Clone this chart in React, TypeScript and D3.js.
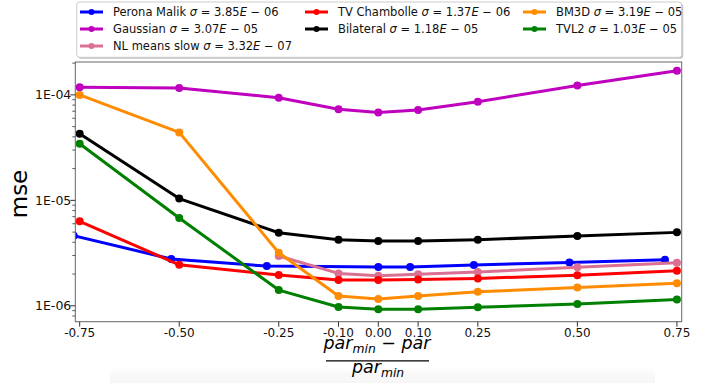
import React from "react";
import * as d3 from "d3";

const xTicks = [-0.75, -0.5, -0.25, -0.1, 0, 0.1, 0.25, 0.5, 0.75];
const xTickLabels = ["-0.75", "-0.50", "-0.25", "-0.10", "0.00", "0.10", "0.25", "0.50", "0.75"];
const yTicks = [1e-4, 1e-5, 1e-6];
const yTickLabels = ["1E-04", "1E-05", "1E-06"];

const xStd = [-0.75, -0.5, -0.25, -0.1, 0, 0.1, 0.25, 0.5, 0.75];
const xNL = [-0.25, -0.1, 0, 0.1, 0.25, 0.5, 0.75];
const xPM = [-0.765, -0.52, -0.28, 0, 0.08, 0.24, 0.48, 0.72];

const peronaMalik = [4.62e-6, 2.78e-6, 2.38e-6, 2.33e-6, 2.34e-6, 2.44e-6, 2.58e-6, 2.74e-6];
const gaussian = [1.18e-4, 1.16e-4, 9.4e-5, 7.3e-5, 6.8e-5, 7.2e-5, 8.6e-5, 1.23e-4, 1.69e-4];
const nlMeans = [2.97e-6, 2.03e-6, 1.93e-6, 1.99e-6, 2.09e-6, 2.32e-6, 2.56e-6];
const tvChambolle = [6.32e-6, 2.45e-6, 1.96e-6, 1.76e-6, 1.76e-6, 1.78e-6, 1.82e-6, 1.95e-6, 2.15e-6];
const bilateral = [4.28e-5, 1.04e-5, 4.93e-6, 4.23e-6, 4.11e-6, 4.11e-6, 4.23e-6, 4.59e-6, 4.97e-6];
const bm3d = [1.0e-4, 4.41e-5, 3.19e-6, 1.24e-6, 1.16e-6, 1.24e-6, 1.36e-6, 1.49e-6, 1.64e-6];
const tvl2 = [3.44e-5, 6.8e-6, 1.41e-6, 9.75e-7, 9.3e-7, 9.3e-7, 9.7e-7, 1.04e-6, 1.15e-6];

const seriesNames = ["Perona Malik", "Gaussian", "NL means slow", "TV Chambolle", "Bilateral", "BM3D", "TVL2"];
const sigmaMant = ["3.85", "3.07", "3.32", "1.37", "1.18", "3.19", "1.03"];
const sigmaExp = ["06", "05", "07", "06", "05", "05", "05"];
const colors = ["#0000ff", "#bf00bf", "#db7093", "#ff0000", "#000000", "#ff8c00", "#008000"];

const series = [
  { x: xPM, y: peronaMalik },
  { x: xStd, y: gaussian },
  { x: xNL, y: nlMeans },
  { x: xStd, y: tvChambolle },
  { x: xStd, y: bilateral },
  { x: xStd, y: bm3d },
  { x: xStd, y: tvl2 },
];

const W = 713, H = 383;
const L = 75.3, R = 681.7, T = 62, B = 321.7;
const FONT = "DejaVu Sans, sans-serif";

export default function App() {
  const x = d3.scaleLinear().domain([-0.761, 0.762]).range([L, R]);
  const y = d3.scaleLog().domain([7.07e-7, 2.05e-4]).range([B, T]);
  const line = d3.line<[number, number]>().x(d => x(d[0])).y(d => y(d[1]));

  const minor: number[] = [];
  for (let e = -7; e <= -3; e++) {
    for (let k = 2; k <= 9; k++) {
      const v = k * Math.pow(10, e);
      if (v > 7.07e-7 && v < 2.05e-4) minor.push(v);
    }
  }

  const colX = [80, 305, 523];
  const rowY = [12, 29, 46];
  const legendPos = [
    [0, 0], [0, 1], [0, 2], [1, 0], [1, 1], [2, 0], [2, 1],
  ];

  return (
    <svg width={W} height={H} style={{ position: "absolute", left: 0, top: 0, background: "#fff" }} fontFamily={FONT}>
      <defs>
        <clipPath id="plotclip">
          <rect x={L} y={T} width={R - L} height={B - T} />
        </clipPath>
        <linearGradient id="band" x1="0" y1="0" x2="0" y2="1">
          <stop offset="0" stopColor="#fafafa" stopOpacity={0} />
          <stop offset="0.5" stopColor="#f8f8f8" stopOpacity={1} />
          <stop offset="1" stopColor="#f6f6f6" stopOpacity={1} />
        </linearGradient>
      </defs>
      <rect x={0} y={0} width={W} height={H} fill="#fff" />
      <rect x={110} y={367} width={545} height={16} fill="url(#band)" />
      <g clipPath="url(#plotclip)">
        {series.map((s, i) => {
          const pts = s.x.map((xv, j) => [xv, s.y[j]] as [number, number]);
          return (
            <g key={i}>
              <path d={line(pts) || ""} fill="none" stroke={colors[i]} strokeWidth={3} strokeLinejoin="round" />
              {pts.map((p, j) => (
                <circle key={j} cx={x(p[0])} cy={y(p[1])} r={4} fill={colors[i]} />
              ))}
            </g>
          );
        })}
      </g>
      <rect x={L} y={T} width={R - L} height={B - T} fill="none" stroke="#666" strokeWidth={1} />
      {yTicks.map((t, i) => (
        <g key={i}>
          <line x1={L - 5} x2={L} y1={y(t)} y2={y(t)} stroke="#333" strokeWidth={1} />
          <text x={L - 4} y={y(t)} dy="0.35em" textAnchor="end" fontSize={12.5} fill="#111">{yTickLabels[i]}</text>
        </g>
      ))}
      {minor.map((t, i) => (
        <line key={i} x1={L - 3} x2={L} y1={y(t)} y2={y(t)} stroke="#333" strokeWidth={0.8} />
      ))}
      {xTicks.map((t, i) => (
        <g key={i}>
          <line x1={x(t)} x2={x(t)} y1={B} y2={B + 5} stroke="#333" strokeWidth={1} />
          <text x={x(t)} y={B + 15} textAnchor="middle" fontSize={12} fill="#111">{xTickLabels[i]}</text>
        </g>
      ))}
      <text transform={`translate(${27},${194}) rotate(-90)`} textAnchor="middle" fontSize={23} fill="#000">mse</text>
      <g fontStyle="italic" fill="#000">
        <text x={377} y={348.5} textAnchor="middle" fontSize={17.5}>
          par<tspan fontSize={12.3} dy={4}>min</tspan><tspan dy={-4} fontStyle="normal"> − </tspan>par
        </text>
        <line x1={326} x2={429} y1={360.8} y2={360.8} stroke="#000" strokeWidth={1.2} />
        <text x={378} y={373} textAnchor="middle" fontSize={17.5}>
          par<tspan fontSize={12.3} dy={4}>min</tspan>
        </text>
      </g>
      <rect x={78.2} y={3.5} width={605} height={55.3} rx={3} fill="#888" opacity={0.5} />
      <rect x={76.7} y={2} width={605} height={55.3} rx={3} fill="#fff" stroke="#ccc" strokeWidth={1} />
      {seriesNames.map((n, i) => {
        const [c, r] = legendPos[i];
        const lx = colX[c];
        const ly = rowY[r];
        return (
          <g key={i}>
            <line x1={lx} x2={lx + 23} y1={ly} y2={ly} stroke={colors[i]} strokeWidth={3} />
            <circle cx={lx + 11.5} cy={ly} r={3} fill={colors[i]} />
            <text x={lx + 33} y={ly} dy="0.35em" fontSize={11.5} fill="#111">
              {n} <tspan fontStyle="italic">σ</tspan> = {sigmaMant[i]}<tspan fontStyle="italic">E</tspan> − {sigmaExp[i]}
            </text>
          </g>
        );
      })}
    </svg>
  );
}
